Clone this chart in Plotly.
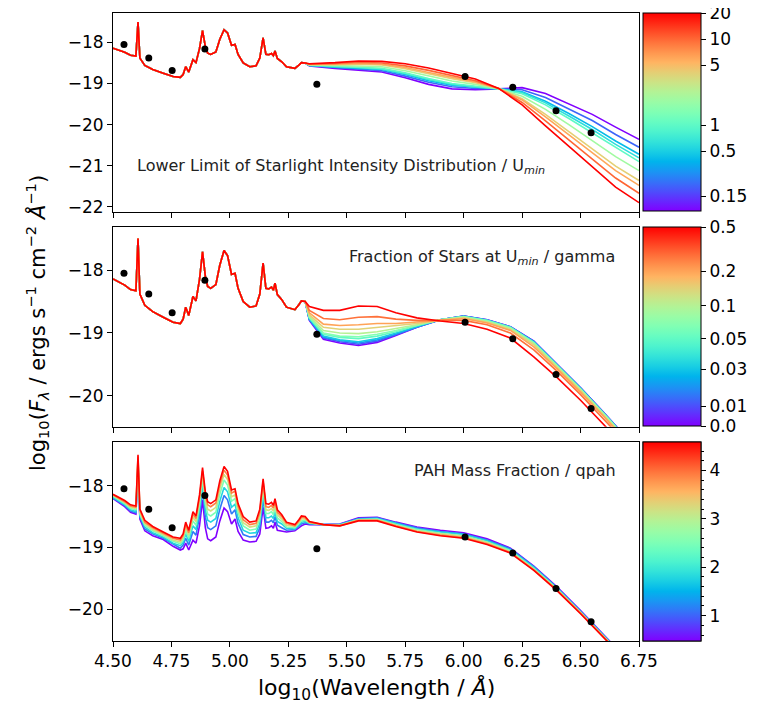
import numpy as np
import plotly.graph_objects as go

W, H = 765, 705
OFF = 8  # the page body adds an 8 px margin; shift the layout back by it

# mid-IR part shared by the model SEDs (log10 wavelength / log10 flux)
PAH_X = [4.500, 4.550, 4.575, 4.598, 4.607, 4.615, 4.636, 4.670, 4.715, 4.757,
         4.788, 4.800, 4.811, 4.824, 4.842, 4.855, 4.870, 4.883, 4.895, 4.905,
         4.918, 4.940, 4.957, 4.975, 4.990, 5.007, 5.022, 5.035, 5.057, 5.085,
         5.112, 5.128, 5.142, 5.154, 5.166, 5.178, 5.186, 5.193, 5.203, 5.222,
         5.242, 5.278, 5.295, 5.306, 5.322]
PAH_Y = [-18.14, -18.24, -18.31, -18.33, -17.50, -18.38, -18.56, -18.66, -18.75, -18.83,
         -18.85, -18.78, -18.59, -18.72, -18.42, -18.49, -18.15, -17.71, -18.10, -18.26,
         -18.29, -18.23, -17.92, -17.69, -17.77, -18.07, -18.05, -18.29, -18.50, -18.59,
         -18.57, -18.38, -17.89, -18.29, -18.30, -18.27, -18.32, -18.21, -18.39, -18.47,
         -18.59, -18.63, -18.55, -18.49, -18.50]

# observed photometry
OBS_X = [4.547, 4.653, 4.753, 4.893, 5.372, 6.006, 6.210, 6.395, 6.545]
OBS_Y = [-18.05, -18.38, -18.68, -18.16, -19.02, -18.83, -19.09, -19.66, -20.20]

# panel 1: Umin
UMIN = [0.1, 0.2, 0.4, 0.6, 1.0, 2.0, 4.0, 6.0, 10.0, 20.0]
UMIN_X = [5.34, 5.45, 5.55, 5.65, 5.75, 5.85, 5.95, 6.05, 6.15, 6.25, 6.35, 6.45, 6.55, 6.65, 6.75]
UMIN_SED = [
    [-18.57, -18.63, -18.68, -18.72, -18.86, -19.02, -19.13, -19.15, -19.13, -19.10, -19.24, -19.49, -19.75, -20.06, -20.36],
    [-18.56, -18.61, -18.65, -18.69, -18.82, -18.97, -19.08, -19.12, -19.13, -19.15, -19.34, -19.62, -19.90, -20.24, -20.55],
    [-18.56, -18.60, -18.63, -18.66, -18.78, -18.93, -19.04, -19.09, -19.13, -19.20, -19.43, -19.73, -20.05, -20.40, -20.72],
    [-18.56, -18.59, -18.61, -18.65, -18.76, -18.90, -19.02, -19.08, -19.13, -19.22, -19.47, -19.79, -20.12, -20.48, -20.81],
    [-18.55, -18.58, -18.60, -18.63, -18.74, -18.88, -19.00, -19.06, -19.13, -19.25, -19.52, -19.85, -20.20, -20.57, -20.90],
    [-18.55, -18.56, -18.57, -18.59, -18.69, -18.82, -18.94, -19.02, -19.13, -19.31, -19.63, -20.00, -20.38, -20.78, -21.12],
    [-18.54, -18.54, -18.53, -18.55, -18.64, -18.76, -18.88, -18.98, -19.12, -19.37, -19.75, -20.17, -20.58, -21.01, -21.36],
    [-18.53, -18.53, -18.51, -18.53, -18.61, -18.73, -18.85, -18.96, -19.12, -19.40, -19.81, -20.24, -20.68, -21.12, -21.48],
    [-18.53, -18.51, -18.48, -18.50, -18.57, -18.68, -18.81, -18.93, -19.12, -19.46, -19.91, -20.37, -20.84, -21.30, -21.67],
    [-18.52, -18.49, -18.45, -18.46, -18.52, -18.62, -18.75, -18.89, -19.12, -19.52, -20.03, -20.53, -21.03, -21.52, -21.90],
]
UMIN_TICKS = [0.15, 0.5, 1, 5, 10, 20]

# panel 2: gamma
GAMMA = [0.0, 0.01, 0.02, 0.03, 0.05, 0.07, 0.1, 0.15, 0.2, 0.3, 0.5]
LW_X = [5.34, 5.40, 5.47, 5.55, 5.63, 5.71, 5.80, 5.90, 6.00, 6.10, 6.20, 6.30, 6.40, 6.50, 6.60, 6.70]
GAMMA_SED = [
    [-18.80, -19.10, -19.16, -19.20, -19.15, -19.04, -18.91, -18.79, -18.73, -18.79, -18.90, -19.13, -19.50, -19.87, -20.27, -20.68],
    [-18.79, -19.08, -19.14, -19.18, -19.13, -19.03, -18.91, -18.79, -18.73, -18.79, -18.90, -19.13, -19.50, -19.87, -20.27, -20.68],
    [-18.78, -19.07, -19.12, -19.16, -19.11, -19.02, -18.90, -18.79, -18.73, -18.80, -18.91, -19.14, -19.51, -19.88, -20.28, -20.69],
    [-18.78, -19.05, -19.11, -19.14, -19.09, -19.00, -18.90, -18.79, -18.74, -18.80, -18.91, -19.14, -19.51, -19.88, -20.28, -20.69],
    [-18.76, -19.02, -19.07, -19.09, -19.05, -18.98, -18.88, -18.79, -18.74, -18.80, -18.91, -19.15, -19.52, -19.89, -20.28, -20.69],
    [-18.75, -19.00, -19.05, -19.06, -19.02, -18.96, -18.88, -18.79, -18.74, -18.81, -18.92, -19.16, -19.52, -19.89, -20.29, -20.70],
    [-18.73, -18.96, -19.00, -19.01, -18.98, -18.93, -18.87, -18.79, -18.75, -18.82, -18.93, -19.17, -19.54, -19.90, -20.30, -20.71],
    [-18.71, -18.91, -18.94, -18.94, -18.91, -18.89, -18.85, -18.80, -18.76, -18.83, -18.95, -19.19, -19.55, -19.92, -20.32, -20.72],
    [-18.68, -18.86, -18.88, -18.87, -18.85, -18.85, -18.83, -18.80, -18.77, -18.84, -18.96, -19.22, -19.57, -19.94, -20.33, -20.74],
    [-18.64, -18.77, -18.79, -18.75, -18.74, -18.78, -18.80, -18.80, -18.80, -18.87, -19.00, -19.27, -19.61, -19.98, -20.37, -20.77],
    [-18.58, -18.64, -18.64, -18.57, -18.58, -18.68, -18.76, -18.81, -18.85, -18.94, -19.08, -19.38, -19.71, -20.07, -20.45, -20.85],
]
GAMMA_TICKS = [0.0, 0.01, 0.03, 0.05, 0.1, 0.2, 0.5]
GAMMA_TICK_POS = [0.0, 0.10, 0.286, 0.44, 0.606, 0.78, 1.0]
GAMMA_LABELS = ['0.0', '0.01', '0.03', '0.05', '0.1', '0.2', '0.5']

# panel 3: qpah (differs in the PAH bands)
QPAH = [0.47, 1.12, 1.77, 2.50, 3.19, 3.90, 4.58]
QPAH_SED_PAH = [
    [-18.21, -18.34, -18.43, -18.46, -17.75, -18.54, -18.73, -18.81, -18.87, -18.98,
     -19.04, -19.02, -18.93, -19.04, -18.88, -18.93, -18.65, -18.23, -18.68, -18.86,
     -18.89, -18.83, -18.57, -18.36, -18.42, -18.62, -18.54, -18.74, -18.88, -18.91,
     -18.90, -18.78, -18.35, -18.69, -18.68, -18.65, -18.69, -18.59, -18.72, -18.74,
     -18.75, -18.73, -18.68, -18.65, -18.62],
    [-18.20, -18.32, -18.41, -18.44, -17.69, -18.51, -18.70, -18.78, -18.85, -18.95,
     -19.01, -18.96, -18.85, -18.96, -18.74, -18.80, -18.50, -18.07, -18.51, -18.68,
     -18.71, -18.65, -18.38, -18.16, -18.23, -18.46, -18.39, -18.61, -18.79, -18.83,
     -18.82, -18.68, -18.21, -18.59, -18.59, -18.56, -18.60, -18.50, -18.64, -18.68,
     -18.72, -18.71, -18.66, -18.62, -18.60],
    [-18.19, -18.31, -18.39, -18.42, -17.64, -18.48, -18.67, -18.76, -18.83, -18.93,
     -18.97, -18.92, -18.78, -18.90, -18.65, -18.71, -18.40, -17.97, -18.39, -18.56,
     -18.59, -18.53, -18.25, -18.03, -18.10, -18.35, -18.30, -18.52, -18.72, -18.77,
     -18.76, -18.61, -18.12, -18.52, -18.52, -18.49, -18.53, -18.43, -18.58, -18.62,
     -18.69, -18.70, -18.64, -18.59, -18.58],
    [-18.17, -18.29, -18.37, -18.39, -17.60, -18.46, -18.64, -18.73, -18.81, -18.90,
     -18.94, -18.88, -18.73, -18.85, -18.57, -18.64, -18.32, -17.88, -18.29, -18.46,
     -18.49, -18.43, -18.14, -17.91, -17.99, -18.25, -18.21, -18.44, -18.65, -18.72,
     -18.70, -18.54, -18.04, -18.45, -18.45, -18.42, -18.47, -18.36, -18.52, -18.58,
     -18.67, -18.68, -18.61, -18.57, -18.56],
    [-18.16, -18.27, -18.35, -18.37, -17.56, -18.43, -18.61, -18.71, -18.79, -18.88,
     -18.91, -18.84, -18.68, -18.80, -18.51, -18.58, -18.25, -17.81, -18.22, -18.38,
     -18.41, -18.35, -18.05, -17.82, -17.90, -18.18, -18.15, -18.38, -18.60, -18.67,
     -18.65, -18.48, -17.98, -18.39, -18.40, -18.37, -18.41, -18.31, -18.47, -18.54,
     -18.64, -18.66, -18.59, -18.54, -18.54],
    [-18.15, -18.26, -18.33, -18.35, -17.53, -18.40, -18.59, -18.68, -18.77, -18.85,
     -18.88, -18.81, -18.63, -18.76, -18.46, -18.53, -18.20, -17.76, -18.15, -18.31,
     -18.34, -18.28, -17.98, -17.75, -17.83, -18.12, -18.09, -18.33, -18.55, -18.63,
     -18.61, -18.43, -17.93, -18.34, -18.35, -18.32, -18.36, -18.26, -18.43, -18.50,
     -18.61, -18.65, -18.57, -18.51, -18.52],
    PAH_Y,
]
QPAH_SED_LW = [
    [-18.63, -18.63, -18.62, -18.52, -18.51, -18.59, -18.67, -18.72, -18.76, -18.86, -19.01, -19.30, -19.64, -20.02, -20.41, -20.81],
    [-18.62, -18.63, -18.63, -18.53, -18.52, -18.60, -18.68, -18.74, -18.78, -18.88, -19.02, -19.31, -19.65, -20.03, -20.42, -20.82],
    [-18.61, -18.63, -18.63, -18.54, -18.53, -18.61, -18.70, -18.75, -18.79, -18.89, -19.04, -19.32, -19.66, -20.04, -20.42, -20.82],
    [-18.60, -18.63, -18.64, -18.55, -18.54, -18.63, -18.71, -18.77, -18.81, -18.91, -19.05, -19.34, -19.67, -20.05, -20.43, -20.83],
    [-18.60, -18.63, -18.64, -18.55, -18.55, -18.64, -18.73, -18.78, -18.82, -18.92, -19.07, -19.35, -19.68, -20.05, -20.44, -20.84],
    [-18.59, -18.63, -18.65, -18.56, -18.56, -18.65, -18.74, -18.80, -18.84, -18.94, -19.08, -19.36, -19.69, -20.06, -20.44, -20.84],
    [-18.58, -18.63, -18.65, -18.57, -18.57, -18.66, -18.75, -18.81, -18.85, -18.95, -19.09, -19.37, -19.70, -20.07, -20.45, -20.85],
]


def rainbow(t):
    # matplotlib 'rainbow'
    r = min(1.0, abs(2 * t - 0.5))
    g = np.sin(np.pi * t)
    b = max(0.0, np.cos(np.pi * t / 2))
    return 'rgb(%d,%d,%d)' % (round(255 * r), round(255 * g), round(255 * b))


RAINBOW = [[i / 20, rainbow(i / 20)] for i in range(21)]

# plot area in pixels (as seen on screen), panels as (top, bottom) pixel rows
L, R, T, B = 113 - OFF, 639 - OFF, 13 - OFF, 641 - OFF
PW, PH = R - L, B - T
PANELS = [(13.3, 211.7), (227.3, 426.7), (442.3, 641.0)]
YRANGES = [[-22.12, -17.29], [-20.49, -17.32], [-20.51, -17.30]]
CB_LEFT = 643.0


def px(x):
    return (x - OFF - L) / PW


def py(y):
    return (B - (y - OFF)) / PH


def cbar(i, **kw):
    top, bot = PANELS[i]
    cb = dict(x=px(CB_LEFT), xanchor='left', xpad=0, thickness=58,
              y=py(top), yanchor='top', len=(bot - top) / PH, lenmode='fraction', ypad=0,
              outlinewidth=1, outlinecolor='black', ticks='outside', ticklen=5,
              tickwidth=1, tickcolor='black', ticklabeloverflow='allow',
              tickfont=dict(size=17, color='black'))
    cb.update(kw)
    return cb


def cb_trace(i, cmin, cmax, colorbar):
    ax = '' if i == 0 else str(i + 1)
    return go.Scatter(x=[4.0], y=[-30], mode='markers', xaxis='x' + ax, yaxis='y' + ax,
                      marker=dict(size=1, opacity=0, color=[cmin], colorscale=RAINBOW,
                                  cmin=cmin, cmax=cmax, showscale=True, colorbar=colorbar),
                      hoverinfo='skip', showlegend=False)


fig = go.Figure()

# panel 1
lo, hi = np.log10(0.1), np.log10(20)
for u, row in zip(UMIN, UMIN_SED):
    t = (np.log10(u) - lo) / (hi - lo)
    fig.add_trace(go.Scatter(x=PAH_X + UMIN_X, y=PAH_Y + row, mode='lines',
                             line=dict(color=rainbow(t), width=1.6),
                             xaxis='x', yaxis='y', hoverinfo='skip', showlegend=False))
fig.add_trace(cb_trace(0, lo, hi + 1e-6, cbar(0, tickvals=[float(np.log10(v)) for v in UMIN_TICKS],
                                              ticktext=[str(v) for v in UMIN_TICKS])))

# panel 2
for g, row in zip(GAMMA, GAMMA_SED):
    t = np.interp(g, GAMMA_TICKS, GAMMA_TICK_POS)
    fig.add_trace(go.Scatter(x=PAH_X + LW_X, y=PAH_Y + row, mode='lines',
                             line=dict(color=rainbow(t), width=1.6),
                             xaxis='x2', yaxis='y2', hoverinfo='skip', showlegend=False))
fig.add_trace(cb_trace(1, 0, 1, cbar(1, tickvals=GAMMA_TICK_POS, ticktext=GAMMA_LABELS)))

# panel 3
for q, pah, lw in zip(QPAH, QPAH_SED_PAH, QPAH_SED_LW):
    t = (q - QPAH[0]) / (QPAH[-1] - QPAH[0])
    fig.add_trace(go.Scatter(x=PAH_X + LW_X, y=pah + lw, mode='lines',
                             line=dict(color=rainbow(t), width=1.6),
                             xaxis='x3', yaxis='y3', hoverinfo='skip', showlegend=False))
minor = [round(0.6 + 0.2 * k, 1) for k in range(20) if round(0.6 + 0.2 * k, 1) % 1 != 0]
fig.add_trace(cb_trace(2, QPAH[0], QPAH[-1],
                       cbar(2, tickvals=minor, ticklen=2.5, showticklabels=False)))
fig.add_trace(cb_trace(2, QPAH[0], QPAH[-1], cbar(2, tickvals=[1, 2, 3, 4])))

# observations
for i in range(3):
    ax = '' if i == 0 else str(i + 1)
    fig.add_trace(go.Scatter(x=OBS_X, y=OBS_Y, mode='markers', xaxis='x' + ax, yaxis='y' + ax,
                             marker=dict(color='black', size=7), hoverinfo='skip', showlegend=False))

axstyle = dict(showline=True, linecolor='black', linewidth=1, mirror=True, ticks='outside',
               ticklen=5, tickwidth=1, tickcolor='black', showgrid=False, zeroline=False,
               automargin=False, tickfont=dict(size=17, color='black'))
layout = {}
for i in range(3):
    ax = '' if i == 0 else str(i + 1)
    top, bot = PANELS[i]
    layout['xaxis' + ax] = dict(domain=[0, 1], anchor='y' + ax, range=[4.5, 6.75],
                                dtick=0.25, tick0=4.5, tickformat='.2f',
                                showticklabels=(i == 2), **axstyle)
    layout['yaxis' + ax] = dict(domain=[py(bot), py(top)], anchor='x' + ax, range=YRANGES[i],
                                dtick=1, **axstyle)

fig.update_layout(
    width=W, height=H, margin=dict(l=L, r=W - R, t=T, b=H - B, autoexpand=False),
    paper_bgcolor='white', plot_bgcolor='white',
    font=dict(family='DejaVu Sans', color='black'),
    **layout,
)

notes = [
    (135, 167, 'left', 'Lower Limit of Starlight Intensity Distribution / U<sub><i>min</i></sub>'),
    (617, 258, 'right', 'Fraction of Stars at U<sub><i>min</i></sub> / gamma'),
    (618, 470, 'right', 'PAH Mass Fraction / qpah'),
]
for x, y, anchor, text in notes:
    fig.add_annotation(x=px(x), y=py(y), xref='paper', yref='paper', xanchor=anchor, yanchor='middle',
                       text=text, showarrow=False, font=dict(size=16, color='#222'))

fig.add_annotation(x=px(376), y=py(689), xref='paper', yref='paper', xanchor='center',
                   yanchor='middle', showarrow=False, font=dict(size=22),
                   text='log<sub>10</sub>(Wavelength / <i>Å</i>)')
fig.add_annotation(x=px(37), y=py(323), xref='paper', yref='paper', xanchor='center',
                   yanchor='middle', showarrow=False, textangle=-90, font=dict(size=21),
                   text='log<sub>10</sub>(<i>F</i><sub><i>λ</i></sub> / ergs s<sup>−1</sup> '
                        'cm<sup>−2</sup> <i>Å</i><sup>−1</sup>)')

fig.write_html("out.html")
